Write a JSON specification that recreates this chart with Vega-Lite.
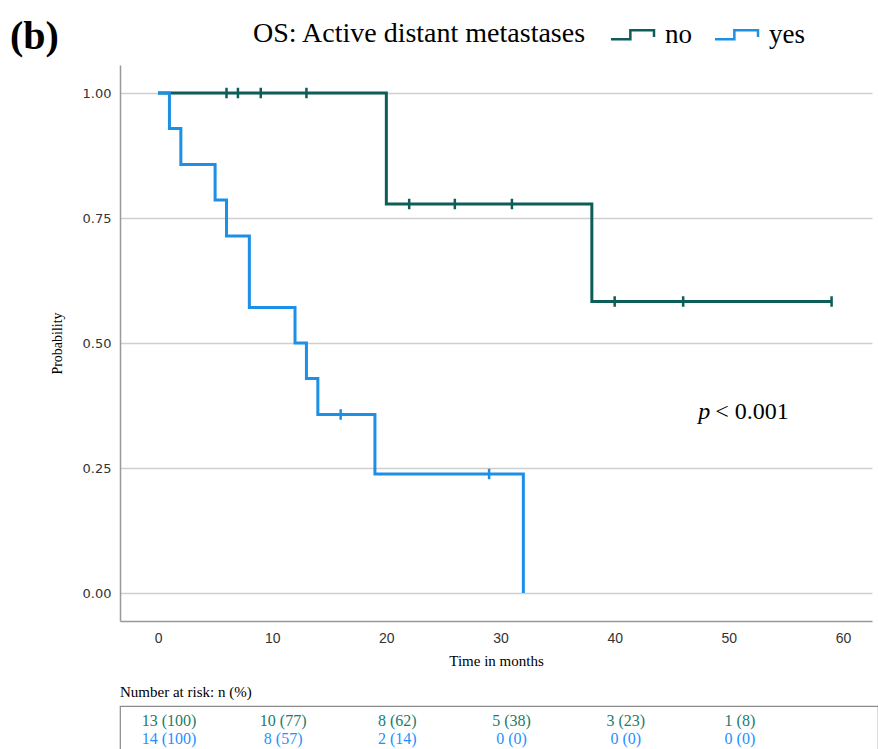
{
  "$schema": "https://vega.github.io/schema/vega-lite/v6.json",
  "background": "white",
  "padding": {"left": 10, "top": 17, "right": 0, "bottom": 0},
  "spacing": 16,
  "config": {"view": {"stroke": null}, "font": "Liberation Serif"},
  "datasets": {
    "curves": [
      {"group": "no", "time": 0, "surv": 1.0},
      {"group": "no", "time": 20, "surv": 0.778},
      {"group": "no", "time": 38, "surv": 0.583},
      {"group": "no", "time": 59, "surv": 0.583},
      {"group": "yes", "time": 0, "surv": 1.0},
      {"group": "yes", "time": 1, "surv": 0.929},
      {"group": "yes", "time": 2, "surv": 0.857},
      {"group": "yes", "time": 5, "surv": 0.786},
      {"group": "yes", "time": 6, "surv": 0.714},
      {"group": "yes", "time": 8, "surv": 0.571},
      {"group": "yes", "time": 12, "surv": 0.5},
      {"group": "yes", "time": 13, "surv": 0.429},
      {"group": "yes", "time": 14, "surv": 0.357},
      {"group": "yes", "time": 19, "surv": 0.238},
      {"group": "yes", "time": 32, "surv": 0.0}
    ],
    "censored": [
      {"group": "no", "time": 6, "surv": 1.0},
      {"group": "no", "time": 7, "surv": 1.0},
      {"group": "no", "time": 9, "surv": 1.0},
      {"group": "no", "time": 13, "surv": 1.0},
      {"group": "no", "time": 22, "surv": 0.778},
      {"group": "no", "time": 26, "surv": 0.778},
      {"group": "no", "time": 31, "surv": 0.778},
      {"group": "no", "time": 40, "surv": 0.583},
      {"group": "no", "time": 46, "surv": 0.583},
      {"group": "no", "time": 59, "surv": 0.583},
      {"group": "yes", "time": 16, "surv": 0.357},
      {"group": "yes", "time": 29, "surv": 0.238}
    ],
    "annot": [
      {"time": 48.8, "surv": 0.362}
    ],
    "risk": [
      {"group": "no", "time": 0, "label": "13 (100)"},
      {"group": "no", "time": 10, "label": "10 (77)"},
      {"group": "no", "time": 20, "label": "8 (62)"},
      {"group": "no", "time": 30, "label": "5 (38)"},
      {"group": "no", "time": 40, "label": "3 (23)"},
      {"group": "no", "time": 50, "label": "1 (8)"},
      {"group": "yes", "time": 0, "label": "14 (100)"},
      {"group": "yes", "time": 10, "label": "8 (57)"},
      {"group": "yes", "time": 20, "label": "2 (14)"},
      {"group": "yes", "time": 30, "label": "0 (0)"},
      {"group": "yes", "time": 40, "label": "0 (0)"},
      {"group": "yes", "time": 50, "label": "0 (0)"}
    ]
  },
  "vconcat": [
    {
      "width": 752,
      "height": 556,
      "title": {
        "text": "(b)",
        "anchor": "start",
        "frame": "group",
        "font": "Liberation Serif",
        "fontSize": 40,
        "fontWeight": "bold",
        "color": "black",
        "dx": -110,
        "dy": 36,
        "offset": 0
      },
      "encoding": {
        "x": {
          "field": "time",
          "type": "quantitative",
          "scale": {"domain": [-3.33, 62.54], "nice": false, "zero": false},
          "axis": {
            "values": [0, 10, 20, 30, 40, 50, 60],
            "grid": false,
            "ticks": false,
            "domainColor": "#999999",
            "domainWidth": 1.5,
            "labelFont": "Liberation Sans",
            "labelFontSize": 14,
            "labelColor": "#333333",
            "labelPadding": 10,
            "title": "Time in months",
            "titleFont": "Liberation Serif",
            "titleFontSize": 15,
            "titleFontWeight": "normal",
            "titleColor": "black",
            "titlePadding": 8
          }
        },
        "y": {
          "field": "surv",
          "type": "quantitative",
          "scale": {"domain": [-0.056, 1.056], "nice": false, "zero": false},
          "axis": {
            "values": [0, 0.25, 0.5, 0.75, 1],
            "format": ".2f",
            "grid": true,
            "gridColor": "#cfcfcf",
            "gridWidth": 1.5,
            "ticks": false,
            "domainColor": "#999999",
            "domainWidth": 1.5,
            "labelFont": "DejaVu Sans",
            "labelFontSize": 13,
            "labelColor": "#333333",
            "labelPadding": 9,
            "title": "Probability",
            "titleFont": "Liberation Serif",
            "titleFontSize": 14,
            "titleFontWeight": "normal",
            "titleColor": "black",
            "titlePadding": 18
          }
        }
      },
      "layer": [
        {
          "data": {"name": "curves"},
          "mark": {"type": "line", "interpolate": "step-after", "strokeWidth": 3},
          "encoding": {
            "color": {
              "field": "group",
              "type": "nominal",
              "scale": {"domain": ["no", "yes"], "range": ["#0d5d58", "#1c8fe6"]},
              "legend": {
                "orient": "none",
                "legendX": 133,
                "legendY": -44,
                "direction": "horizontal",
                "title": "OS: Active distant metastases",
                "titleOrient": "left",
                "titleAnchor": "middle",
                "titleBaseline": "middle",
                "titleFont": "Liberation Serif",
                "titleFontSize": 28,
                "titleFontWeight": "normal",
                "titleColor": "black",
                "titleLimit": 500,
                "titlePadding": 32,
                "labelFont": "Liberation Serif",
                "labelFontSize": 27,
                "labelColor": "black",
                "labelOffset": 19,
                "columnPadding": 18,
                "symbolType": "M-2,0.42H-0.2V-0.42H2V0.2",
                "symbolSize": 462,
                "symbolStrokeWidth": 2.5,
                "symbolFillColor": "transparent"
              }
            }
          }
        },
        {
          "data": {"name": "censored"},
          "mark": {"type": "point", "shape": "M0,-1V1", "size": 110, "strokeWidth": 2.5, "filled": false, "opacity": 1},
          "encoding": {
            "color": {"field": "group", "type": "nominal"}
          }
        },
        {
          "data": {"name": "annot"},
          "mark": {"type": "text", "text": "p", "align": "right", "baseline": "middle", "dx": -5, "font": "Liberation Serif", "fontStyle": "italic", "fontSize": 24, "color": "black"},
          "encoding": {}
        },
        {
          "data": {"name": "annot"},
          "mark": {"type": "text", "text": "< 0.001", "align": "left", "baseline": "middle", "font": "Liberation Serif", "fontSize": 24, "color": "black"},
          "encoding": {}
        }
      ]
    },
    {
      "width": 758,
      "height": 48,
      "view": {"stroke": "#8a8a8a", "strokeWidth": 1.2},
      "title": {
        "text": "Number at risk: n (%)",
        "anchor": "start",
        "frame": "group",
        "font": "Liberation Serif",
        "fontSize": 15,
        "fontWeight": "normal",
        "color": "black",
        "offset": 6
      },
      "data": {"name": "risk"},
      "mark": {"type": "text", "align": "center", "baseline": "middle", "dx": 11, "font": "Liberation Serif", "fontSize": 16},
      "encoding": {
        "x": {"field": "time", "type": "quantitative", "scale": {"domain": [-3.33, 63.06], "nice": false, "zero": false}, "axis": null},
        "y": {"field": "group", "type": "nominal", "scale": {"type": "point", "domain": ["no", "yes"], "padding": 0.833}, "axis": null},
        "text": {"field": "label"},
        "color": {"field": "group", "type": "nominal", "scale": {"domain": ["no", "yes"], "range": ["#237a6c", "#1e90ff"]}, "legend": null}
      }
    }
  ],
  "resolve": {"scale": {"color": "independent", "x": "independent"}, "legend": {"color": "independent"}}
}
